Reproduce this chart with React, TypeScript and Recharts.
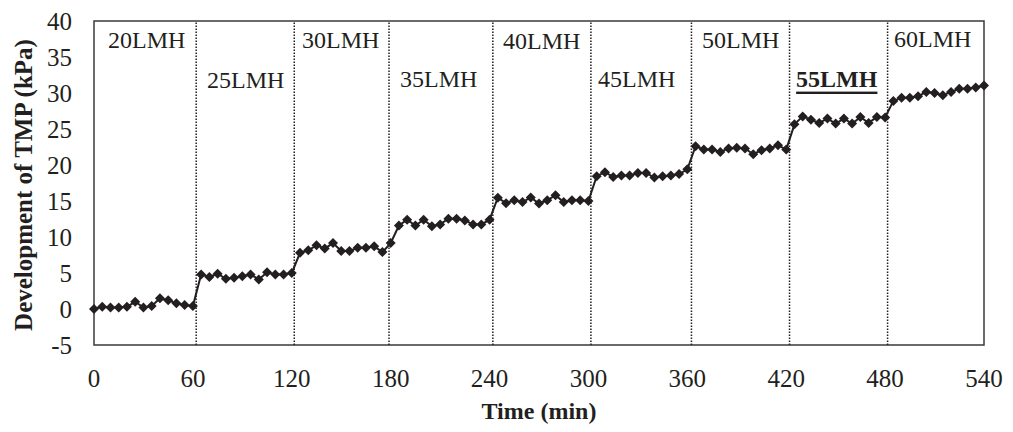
import React from 'react';
import {
  LineChart,
  Line,
  XAxis,
  YAxis,
  ReferenceLine,
  ReferenceArea,
  Scatter,
} from 'recharts';

// sampling times (min)
const times = [
  0, 5, 10, 15, 20, 25, 30, 35, 40, 45, 50, 55,
  60, 65, 70, 75, 80, 85, 90, 95, 100, 105, 110, 115,
  120, 125, 130, 135, 140, 145, 150, 155, 160, 165, 170, 175,
  180, 185, 190, 195, 200, 205, 210, 215, 220, 225, 230, 235,
  240, 245, 250, 255, 260, 265, 270, 275, 280, 285, 290, 295,
  300, 305, 310, 315, 320, 325, 330, 335, 340, 345, 350, 355,
  360, 365, 370, 375, 380, 385, 390, 395, 400, 405, 410, 415,
  420, 425, 430, 435, 440, 445, 450, 455, 460, 465, 470, 475,
  480, 485, 490, 495, 500, 505, 510, 515, 520, 525, 530, 535,
  540,
];

// TMP development (kPa)
const tmp = [
  0.0, 0.3, 0.2, 0.2, 0.3, 1.0, 0.2, 0.4, 1.5, 1.2, 0.8, 0.55,
  0.4, 4.8, 4.45, 4.9, 4.2, 4.35, 4.55, 4.8, 4.1, 5.1, 4.8, 4.8,
  5.0, 7.8, 8.15, 8.85, 8.4, 9.15, 8.05, 8.05, 8.5, 8.5, 8.7, 7.9,
  9.15, 11.6, 12.4, 11.6, 12.4, 11.5, 11.75, 12.55, 12.55, 12.3, 11.75, 11.75,
  12.4, 15.45, 14.7, 15.1, 14.85, 15.5, 14.65, 15.1, 15.8, 14.85, 15.1, 15.1,
  15.0, 18.45, 19.0, 18.35, 18.55, 18.55, 18.9, 18.9, 18.25, 18.45, 18.55, 18.75,
  19.4, 22.6, 22.15, 22.15, 21.8, 22.3, 22.4, 22.3, 21.5, 22.05, 22.3, 22.75,
  22.15, 25.65, 26.75, 26.3, 25.85, 26.45, 25.75, 26.45, 25.75, 26.65, 25.85, 26.65,
  26.6, 28.9, 29.35, 29.35, 29.55, 30.15, 30.0, 29.7, 30.15, 30.6, 30.6, 30.75,
  31.05,
];

// flux step boundaries as drawn (min)
const stepLines = [62, 121.5, 179, 242, 301.5, 362.5, 422, 481.5];

// flux step labels
const fluxLabels = ['20LMH', '25LMH', '30LMH', '35LMH', '40LMH', '45LMH', '50LMH', '55LMH', '60LMH'];
const fluxLabelTime = [8.5, 68.6, 126.2, 185.7, 248.2, 305.8, 368.9, 426, 485.4];
const fluxLabelLevel = [37.3, 31.8, 37.3, 32.0, 37.2, 32.0, 37.3, 32.0, 37.5];

const xTicks = [0, 60, 120, 180, 240, 300, 360, 420, 480, 540];
const yTicks = [-5, 0, 5, 10, 15, 20, 25, 30, 35, 40];

const data = times.map((t, i) => ({ time: t, tmp: tmp[i] }));
const labelData = fluxLabels.map((name, i) => ({
  time: fluxLabelTime[i],
  tmp: fluxLabelLevel[i],
  name,
  highlight: name === '55LMH',
}));

const FONT = '"Liberation Serif", "Times New Roman", serif';
const INK = '#231f20';

const Diamond = (props: any) => {
  const { cx, cy } = props;
  if (cx == null || cy == null) return null;
  const r = 5;
  return (
    <polygon
      points={`${cx},${cy - r} ${cx + r},${cy} ${cx},${cy + r} ${cx - r},${cy}`}
      fill={INK}
      stroke="none"
    />
  );
};

const FluxLabel = (props: any) => {
  const { cx, cy, payload } = props;
  return (
    <text
      x={cx}
      y={cy}
      dominantBaseline="central"
      fontFamily={FONT}
      fontSize={24}
      fontWeight={payload.highlight ? 'bold' : 'normal'}
      fill={INK}
      style={payload.highlight ? { textDecoration: 'underline' } : undefined}
    >
      {payload.name}
    </text>
  );
};

const XTitle = (props: any) => {
  const vb = props.viewBox || {};
  return (
    <text
      x={vb.x + vb.width / 2}
      y={vb.y + 66}
      textAnchor="middle"
      dominantBaseline="central"
      fontFamily={FONT}
      fontSize={24}
      fontWeight="bold"
      fill={INK}
    >
      Time (min)
    </text>
  );
};

const YTitle = (props: any) => {
  const vb = props.viewBox || {};
  const cy = vb.y + vb.height / 2 + 2;
  return (
    <text
      transform={`translate(23, ${cy}) rotate(-90)`}
      textAnchor="middle"
      dominantBaseline="central"
      fontFamily={FONT}
      fontSize={25}
      fontWeight="bold"
      fill={INK}
    >
      Development of TMP (kPa)
    </text>
  );
};

export default function App() {
  return (
    <div style={{ position: 'absolute', left: 0, top: 0, background: '#fff' }}>
      <LineChart
        width={1013}
        height={432}
        data={data}
        margin={{ top: 21, right: 29, bottom: 0, left: 0 }}
      >
        <XAxis
          dataKey="time"
          type="number"
          domain={[0, 540]}
          ticks={xTicks}
          height={87}
          axisLine={false}
          tickLine={false}
          tickSize={0}
          tickMargin={24}
          tick={{ fontFamily: FONT, fontSize: 25, fill: INK }}
          label={<XTitle />}
        />
        <YAxis
          type="number"
          domain={[-5, 40]}
          ticks={yTicks}
          width={94}
          axisLine={false}
          tickLine={false}
          tickSize={0}
          tickMargin={22}
          tick={{ fontFamily: FONT, fontSize: 25, fill: INK }}
          label={<YTitle />}
        />
        <ReferenceArea
          x1={0}
          x2={540}
          y1={-5}
          y2={40}
          fill="none"
          fillOpacity={0}
          stroke="#3a3a3a"
          strokeWidth={1.5}
        />
        {stepLines.map((x) => (
          <ReferenceLine
            key={x}
            x={x}
            stroke={INK}
            strokeWidth={1.5}
            strokeDasharray="1.5 1.5"
          />
        ))}
        <Line
          type="linear"
          dataKey="tmp"
          stroke={INK}
          strokeWidth={2}
          dot={<Diamond />}
          activeDot={false}
          isAnimationActive={false}
        />
        <Scatter
          data={labelData}
          dataKey="tmp"
          shape={<FluxLabel />}
          isAnimationActive={false}
        />
      </LineChart>
    </div>
  );
}
